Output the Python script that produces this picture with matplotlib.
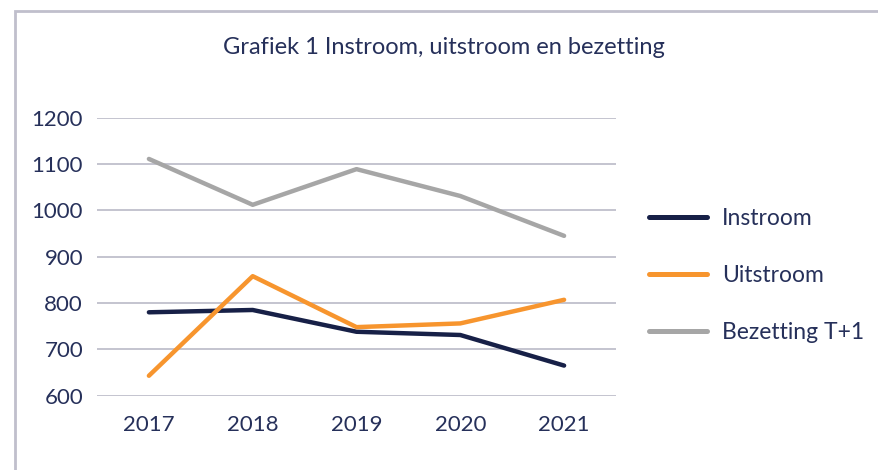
import numpy as np
import matplotlib.pyplot as plt
from matplotlib.patches import Rectangle

years = ['2017', '2018', '2019', '2020', '2021']
instroom = [780, 785, 738, 731, 665]
uitstroom = [643, 858, 748, 756, 807]
bezetting = [1111, 1012, 1089, 1031, 945]

navy = '#172047'
orange = '#f7952e'
grey = '#a6a6a6'
text_col = '#26305a'

plt.rcParams['font.family'] = ['Lato', 'DejaVu Sans']

fig = plt.figure(figsize=(8.79, 4.7), dpi=100)
ax = fig.add_axes([97 / 879, 1 - 395.7 / 470, 519 / 879, 278 / 470])

x = np.arange(len(years))
ax.plot(x, instroom, color=navy, lw=3.2, solid_capstyle='round', label='Instroom')
ax.plot(x, uitstroom, color=orange, lw=3.2, solid_capstyle='round', label='Uitstroom')
ax.plot(x, bezetting, color=grey, lw=3.2, solid_capstyle='round', label='Bezetting T+1')

ax.set_xlim(-0.5, 4.5)
ax.set_ylim(600, 1200)
ax.set_yticks(np.arange(600, 1201, 100))
ax.set_xticks(x, years)
ax.grid(axis='y', color='#bfbfcb', lw=1.3)
ax.set_axisbelow(True)
for s in ax.spines.values():
    s.set_visible(False)
ax.tick_params(length=0, labelsize=16, colors=text_col)
ax.tick_params(axis='y', pad=10)
ax.tick_params(axis='x', pad=14)

# chart frame (cut off at right and bottom)
fig.patches.append(Rectangle((15 / 879, -0.1), 1.0, 1 - 11 / 470 + 0.1,
                             transform=fig.transFigure, fill=False,
                             edgecolor='#c0bfcc', lw=2))

fig.text(444 / 879, 1 - 47 / 470, 'Grafiek 1 Instroom, uitstroom en bezetting',
         ha='center', va='center', fontsize=17, color=text_col)

leg = fig.legend(loc='upper left', bbox_to_anchor=(628 / 879, 1 - 187 / 470),
                 frameon=False, fontsize=16.5, labelcolor=text_col,
                 handlelength=2.55, handletextpad=0.64, labelspacing=1.58)
for h in leg.legend_handles:
    h.set_linewidth(3.6)

fig.savefig('out.png', dpi=100)
